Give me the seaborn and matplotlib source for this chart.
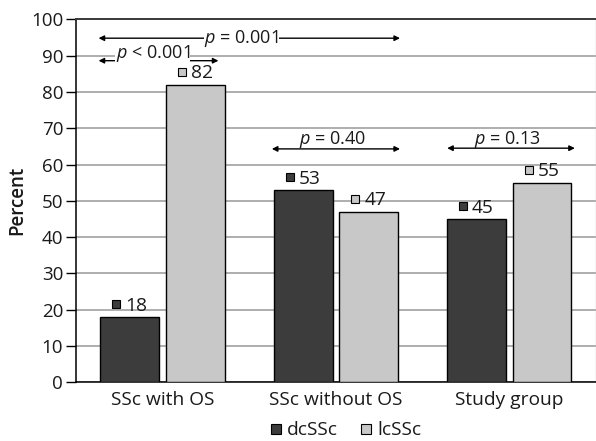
import matplotlib
matplotlib.use("Agg")
import matplotlib.pyplot as plt
import matplotlib.transforms as mtransforms
from matplotlib.lines import Line2D
import seaborn as sns
import pandas as pd

# ---- data ----
categories = ["SSc with OS", "SSc without OS", "Study group"]
series_names = ["dcSSc", "lcSSc"]
dcssc_values = [18, 53, 45]
lcssc_values = [82, 47, 55]
yticks = [0, 10, 20, 30, 40, 50, 60, 70, 80, 90, 100]
p_labels = ["p < 0.001", "p = 0.001", "p = 0.40", "p = 0.13"]

colors = {"dcSSc": "#3c3c3c", "lcSSc": "#c8c8c8"}

df = pd.DataFrame({
    "category": categories * 2,
    "series": [series_names[0]] * 3 + [series_names[1]] * 3,
    "value": dcssc_values + lcssc_values,
})

sns.set_theme(style="white")
plt.rcParams["font.family"] = ["Open Sans", "DejaVu Sans"]
plt.rcParams["mathtext.fontset"] = "custom"
plt.rcParams["mathtext.rm"] = "Open Sans"
plt.rcParams["mathtext.it"] = "Open Sans:italic"

TXT = "#1a1a1a"
FS = 13.8
PFS = 13.0

fig = plt.figure(figsize=(5.96, 4.41), dpi=100)
ax = fig.add_axes([0.127, 0.1331, 0.873, 0.8231])

sns.barplot(data=df, x="category", y="value", hue="series", order=categories,
            hue_order=series_names, palette=colors, width=0.755, gap=0.1,
            edgecolor="black", linewidth=1.0, ax=ax, legend=False, zorder=3)

ax.set_xlim(-0.5, 2.5)
ax.set_ylim(0, 100)
ax.set_yticks(yticks)
ax.yaxis.grid(True, color="#a8a8a8", linewidth=1.3, zorder=0)
ax.set_axisbelow(True)
ax.tick_params(axis="y", direction="out", length=7, width=1, color="black",
               labelsize=13.5, labelcolor=TXT, pad=2, left=True)
ax.tick_params(axis="x", length=0, labelsize=FS, labelcolor=TXT, pad=6)
ax.set_xlabel("")
ax.set_ylabel("Percent", fontsize=13.5, fontweight="semibold", color=TXT)
ax.yaxis.set_label_coords(-0.094, 0.5)

for side in ["left", "bottom"]:
    ax.spines[side].set_color("black")
    ax.spines[side].set_linewidth(1.1)
ax.spines["top"].set_color("#3a3a3a")
ax.spines["top"].set_linewidth(1.4)
ax.spines["right"].set_color("#c8c8c8")
ax.spines["right"].set_linewidth(1.0)

# value labels with small square keys
for cont, name in zip(ax.containers, series_names):
    for bar in cont:
        xc = bar.get_x() + bar.get_width() / 2
        h = bar.get_height()
        ax.annotate(f"{h:.0f}", xy=(xc, h), xytext=(-3.2, 4.5),
                    textcoords="offset points", ha="left", va="baseline",
                    fontsize=FS, color=TXT, zorder=5)
        tr = mtransforms.offset_copy(ax.transData, fig=fig, x=-13.5, y=12.5,
                                     units="dots")
        ax.plot([xc], [h], marker="s", markersize=5.2, color=colors[name],
                markeredgecolor="black", markeredgewidth=0.8,
                transform=tr, linestyle="none", zorder=5, clip_on=False)

# significance arrows (layout)
arrow_layout = [
    # (x0, x1, y_line, x_text, y_text, on_line)
    (-0.368, 0.323, 88.6, -0.055, 90.6, True),
    (-0.368, 1.370, 94.8, 0.454, 94.8, True),
    (0.631, 1.370, 64.3, 0.981, 65.6, False),
    (1.642, 2.378, 64.5, 1.990, 65.6, False),
]
for lab, (x0, x1, yl, xt, yt, on_line) in zip(p_labels, arrow_layout):
    ax.annotate("", xy=(x1, yl), xytext=(x0, yl),
                arrowprops=dict(arrowstyle="<|-|>", color="black", lw=1.0,
                                mutation_scale=8, shrinkA=0, shrinkB=0),
                zorder=4)
    txt = r"$\it{p}$" + lab[1:]
    if on_line:
        ax.text(xt, yt, txt, ha="center", va="center", fontsize=PFS, color=TXT,
                zorder=6, bbox=dict(facecolor="white", edgecolor="none", pad=0.3))
    else:
        ax.text(xt, yt, txt, ha="center", va="baseline", fontsize=PFS,
                color=TXT, zorder=6)

handles = [Line2D([0], [0], marker="s", linestyle="none", markersize=7,
                  markerfacecolor=colors[n], markeredgecolor="black",
                  markeredgewidth=0.8) for n in series_names]
fig.legend(handles, series_names, loc="center", bbox_to_anchor=(0.577, 0.024),
           ncol=2, frameon=False, fontsize=FS, handletextpad=0.05,
           columnspacing=1.0, handlelength=1.0, labelcolor=TXT)

fig.savefig("out.png", dpi=100)
